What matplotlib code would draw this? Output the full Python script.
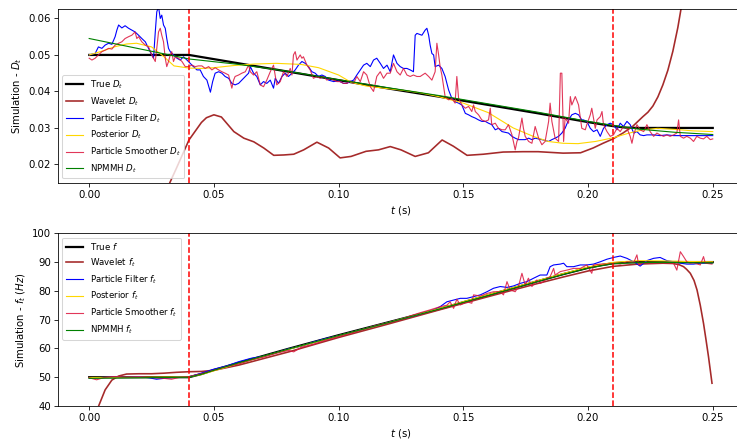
import matplotlib
matplotlib.use("Agg")
import matplotlib.pyplot as plt

# ---------------- top panel: D_t ----------------
t_true_D = [0, 0.04, 0.06, 0.08, 0.10, 0.12, 0.14, 0.16, 0.18, 0.20, 0.21, 0.215, 0.22, 0.25]
true_D = [0.05, 0.05, 0.0477, 0.0454, 0.0431, 0.0408, 0.0386, 0.0363, 0.034, 0.0316, 0.0305, 0.0301, 0.030, 0.030]

t_wav_D = [0.0, 0.02, 0.03, 0.035, 0.04, 0.045, 0.047, 0.05, 0.053, 0.058, 0.062, 0.066, 0.07, 0.074,
           0.078, 0.082, 0.086, 0.0913, 0.096, 0.1006, 0.105, 0.111, 0.116, 0.1207, 0.125, 0.1307,
           0.136, 0.1415, 0.146, 0.1515, 0.158, 0.166, 0.174, 0.18, 0.19, 0.197, 0.202, 0.206, 0.21,
           0.214, 0.218, 0.222, 0.224, 0.226, 0.228, 0.23, 0.232, 0.234, 0.236, 0.238, 0.24, 0.245, 0.25]
wav_D = [-0.05, -0.005, 0.0115, 0.019, 0.0267, 0.0315, 0.0328, 0.0336, 0.0330, 0.0290, 0.0272, 0.0262,
         0.0245, 0.0225, 0.0226, 0.0228, 0.0240, 0.0261, 0.0245, 0.0218, 0.0222, 0.0236, 0.0240, 0.0249,
         0.0240, 0.0222, 0.0232, 0.0267, 0.0250, 0.0225, 0.0228, 0.0234, 0.0235, 0.0235, 0.0231, 0.0232,
         0.0245, 0.0258, 0.0270, 0.0286, 0.0305, 0.0331, 0.0343, 0.0360, 0.0385, 0.0418, 0.0458, 0.0510,
         0.0575, 0.0655, 0.075, 0.10, 0.13]

t_pf_D = [0.0, 0.0024, 0.0037, 0.0051, 0.0064, 0.0078, 0.0091, 0.0104, 0.0111, 0.0118, 0.0131, 0.0144,
          0.0158, 0.0171, 0.0184, 0.0198, 0.0211, 0.0225, 0.0238, 0.0251, 0.0258, 0.0265, 0.0271, 0.0278,
          0.0285, 0.0291, 0.0298, 0.0305, 0.0311, 0.0318, 0.0325, 0.0338, 0.0352, 0.0365, 0.0378, 0.0392,
          0.0405, 0.0418, 0.0432, 0.0445, 0.0458, 0.0472, 0.0486, 0.0495, 0.0505, 0.0519, 0.0532, 0.0545,
          0.0559, 0.0572, 0.0585, 0.0599, 0.0612, 0.0626, 0.0639,
          0.0646, 0.0659, 0.0672, 0.0686, 0.0699, 0.0712, 0.0726, 0.0739, 0.0746, 0.0759, 0.0773, 0.0786,
          0.0799, 0.0813, 0.0826, 0.0839, 0.0853, 0.0866, 0.0879, 0.0893, 0.0906, 0.0919, 0.0933, 0.0946,
          0.0960, 0.0980, 0.1000, 0.1020, 0.1033, 0.1046, 0.1060, 0.1073, 0.1087, 0.1100, 0.1113, 0.1127,
          0.1140, 0.1153, 0.1167, 0.1180, 0.1194, 0.1207, 0.1220, 0.1234, 0.1247, 0.1260, 0.1274, 0.1287,
          0.1300, 0.1307, 0.1314, 0.1334, 0.1347, 0.1354, 0.1361, 0.1367, 0.1374, 0.1381, 0.1387, 0.1401,
          0.1414, 0.1427, 0.1441, 0.1454, 0.1467, 0.1481, 0.1494, 0.1508, 0.1521, 0.1534, 0.1548, 0.1561,
          0.1574, 0.1588, 0.1601, 0.1614, 0.1628, 0.1641, 0.1655, 0.1668, 0.1681, 0.1695, 0.1708, 0.1721,
          0.1735, 0.1748, 0.1762, 0.1775, 0.1788, 0.1815, 0.1842, 0.1855, 0.1868, 0.1882, 0.1895, 0.1908,
          0.1922, 0.1935, 0.1949, 0.1962, 0.1975, 0.1982, 0.1995, 0.2009, 0.2022, 0.2036, 0.2049, 0.2062,
          0.2076, 0.2089, 0.2102, 0.2116, 0.2129, 0.2142, 0.2156, 0.2169, 0.2183, 0.2196, 0.2209, 0.2223,
          0.2236, 0.2263, 0.2289, 0.2316, 0.2343, 0.2370, 0.2423, 0.25]
pf_D = [0.0500, 0.0504, 0.0522, 0.0518, 0.0527, 0.0532, 0.0529, 0.0550, 0.0568, 0.0582, 0.0574, 0.0580,
        0.0573, 0.0568, 0.0563, 0.0554, 0.0545, 0.0536, 0.0518, 0.0500, 0.0491, 0.0563, 0.0618, 0.0632,
        0.0600, 0.0609, 0.0582, 0.0573, 0.0545, 0.0518, 0.0509, 0.0500, 0.0491, 0.0486, 0.0495, 0.0486,
        0.0477, 0.0468, 0.0459, 0.0459, 0.0441, 0.0431, 0.0398, 0.0427, 0.0450, 0.0454, 0.0450, 0.0441,
        0.0436, 0.0422, 0.0418, 0.0422, 0.0431, 0.0441, 0.0450,
        0.0468, 0.0450, 0.0441, 0.0418, 0.0427, 0.0422, 0.0431, 0.0409, 0.0436, 0.0422, 0.0441, 0.0450,
        0.0441, 0.0450, 0.0459, 0.0472, 0.0482, 0.0477, 0.0468, 0.0454, 0.0450, 0.0441, 0.0445, 0.0441,
        0.0431, 0.0427, 0.0429, 0.0422, 0.0422, 0.0427, 0.0431, 0.0445, 0.0459, 0.0472, 0.0477, 0.0468,
        0.0486, 0.0491, 0.0477, 0.0463, 0.0472, 0.0454, 0.0500, 0.0477, 0.0468, 0.0463, 0.0463, 0.0459,
        0.0454, 0.0554, 0.0559, 0.0554, 0.0568, 0.0573, 0.0554, 0.0527, 0.0504, 0.0500, 0.0468, 0.0472,
        0.0463, 0.0441, 0.0404, 0.0381, 0.0372, 0.0368, 0.0363, 0.0340, 0.0336, 0.0331, 0.0327, 0.0322,
        0.0318, 0.0318, 0.0313, 0.0309, 0.0295, 0.0299, 0.0290, 0.0288, 0.0286, 0.0277, 0.0272, 0.0268,
        0.0268, 0.0268, 0.0272, 0.0268, 0.0272, 0.0268, 0.0263, 0.0268, 0.0272, 0.0277, 0.0286, 0.0299,
        0.0322, 0.0336, 0.0340, 0.0336, 0.0322, 0.0322, 0.0318, 0.0299, 0.0290, 0.0295, 0.0277, 0.0299,
        0.0309, 0.0313, 0.0309, 0.0295, 0.0313, 0.0304, 0.0318, 0.0309, 0.0286, 0.0290, 0.0281, 0.0279,
        0.0281, 0.0281, 0.0279, 0.0281, 0.0279, 0.0279, 0.0279, 0.0279]

t_post_D = [0, 0.005, 0.01, 0.015, 0.019, 0.025, 0.03, 0.034, 0.04, 0.045, 0.05, 0.058, 0.066, 0.075,
            0.085, 0.092, 0.100, 0.105, 0.111, 0.118, 0.126, 0.133, 0.14, 0.15, 0.16, 0.17, 0.178, 0.184,
            0.19, 0.196, 0.203, 0.21, 0.216, 0.222, 0.228, 0.235, 0.242, 0.25]
post_D = [0.050, 0.0510, 0.0522, 0.0530, 0.0532, 0.0522, 0.0495, 0.0470, 0.0464, 0.0463, 0.0465, 0.0471,
          0.0475, 0.0477, 0.0474, 0.0465, 0.0445, 0.0425, 0.0415, 0.0409, 0.0403, 0.0396, 0.0386, 0.0368,
          0.0342, 0.0300, 0.0277, 0.0263, 0.0258, 0.0257, 0.0263, 0.0273, 0.0285, 0.0295, 0.0299, 0.0296,
          0.0292, 0.0290]

t_ps_D = [0.0, 0.0011, 0.0024, 0.0037, 0.0051, 0.0064, 0.0078, 0.0091, 0.0104, 0.0118, 0.0131, 0.0144,
          0.0158, 0.0171, 0.0184, 0.0191, 0.0198, 0.0211, 0.0225, 0.0238, 0.0251, 0.0258, 0.0265, 0.0271,
          0.0278, 0.0285, 0.0291, 0.0298, 0.0305, 0.0311, 0.0318, 0.0325, 0.0331, 0.0338, 0.0345, 0.0358,
          0.0372, 0.0385, 0.0398, 0.0412, 0.0425, 0.0438, 0.0452, 0.0465, 0.0479, 0.0492, 0.0505, 0.0519,
          0.0532, 0.0545, 0.0559, 0.0572, 0.0579, 0.0585, 0.0599, 0.0612, 0.0626, 0.0639, 0.0646, 0.0659,
          0.0672, 0.0686, 0.0699, 0.0712, 0.0726, 0.0739, 0.0752, 0.0766, 0.0779, 0.0793, 0.0806, 0.0813,
          0.0819, 0.0826, 0.0833, 0.0846, 0.0853, 0.0859, 0.0873, 0.0886, 0.0899, 0.0913, 0.0926, 0.0940,
          0.0953, 0.0966, 0.0980, 0.0993, 0.1006, 0.1020, 0.1033, 0.1046, 0.1060, 0.1073, 0.1087, 0.1100,
          0.1113, 0.1127, 0.1140, 0.1153, 0.1167, 0.1180, 0.1194, 0.1207, 0.1220, 0.1234, 0.1247, 0.1260,
          0.1274, 0.1287, 0.1300, 0.1314, 0.1327, 0.1347, 0.1361, 0.1374, 0.1387, 0.1394, 0.1401, 0.1407,
          0.1414, 0.1427, 0.1441, 0.1454, 0.1467, 0.1474, 0.1481, 0.1494, 0.1508, 0.1521, 0.1534, 0.1541,
          0.1548, 0.1561, 0.1574, 0.1588, 0.1601, 0.1608, 0.1614, 0.1628, 0.1641, 0.1655, 0.1668, 0.1681,
          0.1695, 0.1708, 0.1715, 0.1721, 0.1735, 0.1741, 0.1748, 0.1762, 0.1775, 0.1788, 0.1802, 0.1815,
          0.1828, 0.1842, 0.1848, 0.1855, 0.1868, 0.1882, 0.1889, 0.1895, 0.1902, 0.1908, 0.1922, 0.1929,
          0.1935, 0.1949, 0.1962, 0.1975, 0.1989, 0.1995, 0.2009, 0.2015, 0.2022, 0.2029, 0.2036, 0.2049,
          0.2056, 0.2062, 0.2076, 0.2089, 0.2102, 0.2116, 0.2129, 0.2142, 0.2156, 0.2169, 0.2176, 0.2183,
          0.2196, 0.2209, 0.2223, 0.2236, 0.2249, 0.2263, 0.2276, 0.2289, 0.2303, 0.2316, 0.2329, 0.2343,
          0.2356, 0.2363, 0.2370, 0.2383, 0.2396, 0.2410, 0.2423, 0.2436, 0.2450, 0.2463, 0.2476, 0.2490,
          0.25]
ps_D = [0.0491, 0.0486, 0.0491, 0.0500, 0.0509, 0.0513, 0.0518, 0.0516, 0.0527, 0.0532, 0.0536, 0.0545,
        0.0550, 0.0554, 0.0563, 0.0545, 0.0550, 0.0536, 0.0527, 0.0522, 0.0500, 0.0491, 0.0482, 0.0518,
        0.0563, 0.0573, 0.0554, 0.0536, 0.0491, 0.0468, 0.0482, 0.0500, 0.0509, 0.0482, 0.0495, 0.0491,
        0.0482, 0.0468, 0.0468, 0.0472, 0.0468, 0.0470, 0.0470, 0.0463, 0.0468, 0.0459, 0.0465, 0.0459,
        0.0454, 0.0450, 0.0445, 0.0409, 0.0431, 0.0441, 0.0445, 0.0450, 0.0454, 0.0472, 0.0454, 0.0445,
        0.0454, 0.0418, 0.0413, 0.0431, 0.0454, 0.0472, 0.0418, 0.0427, 0.0454, 0.0441, 0.0463, 0.0445,
        0.0500, 0.0509, 0.0486, 0.0500, 0.0491, 0.0495, 0.0472, 0.0459, 0.0436, 0.0441, 0.0436, 0.0441,
        0.0431, 0.0436, 0.0431, 0.0427, 0.0427, 0.0422, 0.0422, 0.0429, 0.0422, 0.0441, 0.0427, 0.0454,
        0.0445, 0.0413, 0.0400, 0.0441, 0.0454, 0.0436, 0.0450, 0.0450, 0.0477, 0.0454, 0.0445, 0.0463,
        0.0445, 0.0441, 0.0445, 0.0441, 0.0441, 0.0450, 0.0441, 0.0431, 0.0454, 0.0532, 0.0500, 0.0468,
        0.0445, 0.0386, 0.0377, 0.0381, 0.0368, 0.0441, 0.0381, 0.0363, 0.0354, 0.0359, 0.0345, 0.0363,
        0.0345, 0.0336, 0.0322, 0.0318, 0.0322, 0.0354, 0.0309, 0.0313, 0.0299, 0.0295, 0.0295, 0.0309,
        0.0281, 0.0240, 0.0263, 0.0272, 0.0327, 0.0299, 0.0277, 0.0263, 0.0258, 0.0304, 0.0272, 0.0254,
        0.0263, 0.0318, 0.0368, 0.0318, 0.0272, 0.0263, 0.0450, 0.0450, 0.0263, 0.0327, 0.0313, 0.0386,
        0.0363, 0.0386, 0.0363, 0.0299, 0.0295, 0.0309, 0.0336, 0.0354, 0.0327, 0.0299, 0.0322, 0.0331,
        0.0345, 0.0309, 0.0290, 0.0277, 0.0281, 0.0299, 0.0290, 0.0304, 0.0299, 0.0277, 0.0258, 0.0281,
        0.0309, 0.0295, 0.0290, 0.0309, 0.0290, 0.0277, 0.0286, 0.0281, 0.0277, 0.0281, 0.0277, 0.0281,
        0.0286, 0.0322, 0.0277, 0.0272, 0.0277, 0.0272, 0.0263, 0.0277, 0.0272, 0.0270, 0.0277, 0.0268,
        0.0270]

t_np_D = [0, 0.02, 0.04, 0.06, 0.08, 0.10, 0.12, 0.14, 0.16, 0.18, 0.20, 0.21, 0.22, 0.235, 0.25]
np_D = [0.0545, 0.0517, 0.0489, 0.0474, 0.0455, 0.0432, 0.0410, 0.0389, 0.0366, 0.0343, 0.0318, 0.0307,
        0.0297, 0.0288, 0.0282]

# ---------------- bottom panel: f_t ----------------
t_true_f = [0, 0.04, 0.045, 0.05, 0.06, 0.08, 0.10, 0.12, 0.14, 0.16, 0.18, 0.19, 0.20, 0.205, 0.21,
            0.215, 0.22, 0.25]
true_f = [50, 50, 51.1, 52.5, 55.0, 59.9, 64.6, 69.1, 73.6, 78.5, 83.4, 85.8, 88.0, 88.9, 89.6, 89.9, 90, 90]

t_wav_f = [0, 0.0037, 0.0064, 0.0091, 0.0118, 0.015, 0.02, 0.025, 0.03, 0.035, 0.04, 0.045, 0.05, 0.06,
           0.08, 0.10, 0.12, 0.14, 0.16, 0.18, 0.19, 0.20, 0.21, 0.22, 0.23, 0.234, 0.2365, 0.2383, 0.2395,
           0.241, 0.2425, 0.2437, 0.245, 0.2463, 0.2473, 0.2483, 0.2497]
wav_f = [28, 39.8, 45.6, 49.0, 50.4, 51.1, 51.2, 51.2, 51.4, 51.7, 51.9, 52.0, 52.4, 54.2, 58.8, 63.8, 68.5,
         73.3, 78.0, 82.6, 84.8, 86.9, 88.5, 89.3, 89.6, 89.5, 89.1, 88.4, 87.5, 86.1, 83.6, 80.3, 75.0,
         68.7, 63.0, 57.1, 47.9]

t_pf_f = [0, 0.005, 0.01, 0.015, 0.02, 0.024, 0.027, 0.03, 0.035, 0.04, 0.045, 0.05, 0.055, 0.06, 0.065,
          0.07, 0.075, 0.08, 0.085, 0.09, 0.095, 0.10, 0.105, 0.11, 0.115, 0.12, 0.1247, 0.1314, 0.1381,
          0.1407, 0.1434, 0.1461, 0.1488, 0.1514, 0.1541, 0.1568, 0.1595, 0.1621, 0.1648, 0.1675, 0.1701,
          0.1728, 0.1755, 0.1782, 0.1808, 0.1835, 0.1848, 0.1862, 0.1889, 0.1902, 0.1915, 0.1942, 0.1969,
          0.1995, 0.2022, 0.2049, 0.2076, 0.2102, 0.2129, 0.2156, 0.2183, 0.2209, 0.2236, 0.2263, 0.2289,
          0.2316, 0.2343, 0.2370, 0.2396, 0.2423, 0.2450, 0.2497]
pf_f = [49.8, 49.9, 50.1, 50.0, 50.2, 49.8, 49.3, 49.6, 50.0, 50.1, 51.4, 52.8, 53.9, 55.4, 56.6, 57.3,
        58.5, 59.9, 60.8, 62.3, 63.5, 64.4, 65.6, 66.7, 67.9, 69.0, 70.1, 71.6, 73.4, 74.5, 76.2, 76.8, 77.4,
        77.4, 78.0, 78.6, 79.7, 80.9, 81.5, 81.2, 81.7, 82.6, 83.2, 84.4, 85.5, 85.5, 88.4, 89.0, 89.3, 89.6,
        88.4, 88.4, 89.0, 89.0, 89.3, 90.1, 91.0, 91.6, 92.1, 91.3, 90.1, 88.6, 90.5, 91.3, 91.6, 90.5, 90.1,
        89.6, 89.3, 89.3, 89.6, 89.6]

t_post_f = [0, 0.02, 0.04, 0.045, 0.05, 0.06, 0.08, 0.10, 0.12, 0.14, 0.16, 0.18, 0.19, 0.20, 0.21, 0.22,
            0.23, 0.24, 0.25]
post_f = [49.9, 50.0, 50.1, 50.9, 52.2, 54.8, 59.7, 64.4, 69.0, 73.8, 78.7, 83.6, 86.0, 88.3, 89.9, 90.5,
          90.4, 90.2, 90.1]

t_ps_f = [0, 0.003, 0.006, 0.01, 0.015, 0.02, 0.025, 0.03, 0.033, 0.036, 0.04, 0.045, 0.05, 0.055, 0.06,
          0.065, 0.07, 0.075, 0.08, 0.082, 0.085, 0.09, 0.095, 0.10, 0.105, 0.11, 0.115, 0.12, 0.1247,
          0.1287, 0.1327, 0.1367, 0.1407, 0.1434, 0.1447, 0.1461, 0.1474, 0.1488, 0.1514, 0.1534, 0.1541,
          0.1568, 0.1595, 0.1621, 0.1648, 0.1661, 0.1675, 0.1688, 0.1708, 0.1721, 0.1735, 0.1748, 0.1761,
          0.1775, 0.1795, 0.1808, 0.1822, 0.1835, 0.1848, 0.1862, 0.1868, 0.1889, 0.1915, 0.1942, 0.1969,
          0.1995, 0.2015, 0.2022, 0.2049, 0.2076, 0.2102, 0.2129, 0.2156, 0.2183, 0.2196, 0.2203, 0.2223,
          0.2249, 0.2276, 0.2316, 0.2343, 0.2356, 0.2370, 0.2383, 0.2396, 0.2410, 0.2423, 0.2450, 0.2463,
          0.2470, 0.2497]
ps_f = [49.8, 49.1, 49.9, 50.2, 50.0, 50.1, 49.9, 49.6, 49.3, 49.9, 50.2, 51.2, 52.4, 53.7, 54.6, 56.0,
        57.0, 58.3, 59.3, 58.8, 60.4, 61.5, 62.9, 64.1, 65.3, 66.6, 68.0, 68.9, 69.9, 71.3, 72.4, 73.4, 74.5,
        75.0, 76.2, 73.9, 77.1, 75.1, 76.2, 75.7, 78.6, 78.2, 79.1, 79.7, 79.7, 78.6, 83.2, 80.3, 79.7, 81.5,
        86.1, 82.0, 84.4, 81.5, 83.8, 82.6, 83.2, 84.4, 84.9, 87.8, 85.5, 86.7, 87.2, 87.8, 87.8, 89.0, 86.1,
        89.0, 89.3, 89.3, 89.6, 89.3, 90.1, 89.8, 92.5, 89.0, 89.8, 89.6, 89.8, 89.8, 89.6, 87.2, 93.6, 91.9,
        90.1, 89.6, 89.8, 89.0, 91.9, 89.6, 89.3]

t_np_f = [0, 0.02, 0.04, 0.045, 0.05, 0.06, 0.08, 0.10, 0.12, 0.14, 0.16, 0.18, 0.19, 0.20, 0.21, 0.22,
          0.23, 0.24, 0.25]
np_f = [49.6, 49.8, 50.0, 51.0, 52.4, 55.0, 59.8, 64.5, 69.0, 73.6, 78.4, 83.3, 85.7, 87.9, 89.4, 89.8,
        89.9, 89.8, 89.7]

vlines = [0.04, 0.21]

DPI = 73
fig = plt.figure(figsize=(737 / DPI, 441 / DPI), dpi=DPI)
ax1 = fig.add_axes([0.0787, 0.5857, 0.9307, 0.3932])
ax2 = fig.add_axes([0.0787, 0.0794, 0.9307, 0.3916])

ax1.plot(t_true_D, true_D, color='black', lw=2.2, label='True $D_t$')
ax1.plot(t_wav_D, wav_D, color='brown', lw=1.6, label='Wavelet $D_t$')
ax1.plot(t_pf_D, pf_D, color='blue', lw=1.1, label='Particle Filter $D_t$')
ax1.plot(t_post_D, post_D, color='gold', lw=1.1, label='Posterior $D_t$')
ax1.plot(t_ps_D, ps_D, color='crimson', lw=1.1, alpha=0.85, label='Particle Smoother $D_t$')
ax1.plot(t_np_D, np_D, color='green', lw=1.1, label='NPMMH $D_t$')
for v in vlines:
    ax1.axvline(v, color='red', ls='--', lw=1.5)
ax1.set_xlim(-0.0125, 0.2625)
ax1.set_ylim(0.015, 0.0625)
ax1.set_yticks([0.02, 0.03, 0.04, 0.05, 0.06])
ax1.set_xlabel('$t$ (s)')
ax1.set_ylabel('Simulation - $D_t$')
ax1.legend(loc='lower left', fontsize=8.5)

ax2.plot(t_true_f, true_f, color='black', lw=2.2, label='True $f$')
ax2.plot(t_wav_f, wav_f, color='brown', lw=1.6, label='Wavelet $f_t$')
ax2.plot(t_pf_f, pf_f, color='blue', lw=1.1, label='Particle Filter $f_t$')
ax2.plot(t_post_f, post_f, color='gold', lw=1.1, label='Posterior $f_t$')
ax2.plot(t_ps_f, ps_f, color='crimson', lw=1.1, alpha=0.85, label='Particle Smoother $f_t$')
ax2.plot(t_np_f, np_f, color='green', lw=1.1, label='NPMMH $f_t$')
for v in vlines:
    ax2.axvline(v, color='red', ls='--', lw=1.5)
ax2.set_xlim(-0.0125, 0.2625)
ax2.set_ylim(40, 100)
ax2.set_xlabel('$t$ (s)')
ax2.set_ylabel('Simulation - $f_t$ $(Hz)$')
ax2.legend(loc='upper left', fontsize=8.5)

fig.savefig('out.png', dpi=DPI)
